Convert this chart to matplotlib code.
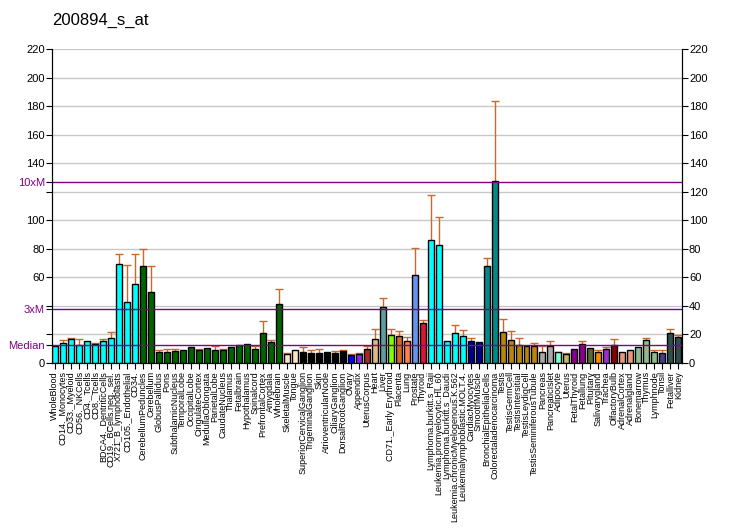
import numpy as np
import matplotlib
matplotlib.use('Agg')
import matplotlib.pyplot as plt

labels = ['WholeBlood', 'CD14._Monocytes', 'CD33._Myeloid', 'CD56._NKCells', 'CD4._Tcells',
          'CD8._Tcells', 'BDCA4._DentriticCells', 'CD19._BCells.neg._sel.', 'X721_B_lymphoblasts',
          'CD105._Endothelial', 'CD34.', 'CerebellumPeduncles', 'Cerebellum', 'GlobusPallidus',
          'Pons', 'SubthalamicNucleus', 'TemporalLobe', 'OccipitalLobe', 'CingulateCortex',
          'MedullaOblongata', 'ParietalLobe', 'CaudateNucleus', 'Thalamus', 'Fetalbrain',
          'Hypothalamus', 'Spinalcord', 'PrefrontalCortex', 'Amygdala', 'Wholebrain',
          'SkeletalMuscle', 'Tongue', 'SuperiorCervicalGanglion', 'TrigeminalGanglion', 'Skin',
          'AtrioventricularNode', 'CiliaryGanglion', 'DorsalRootGanglion', 'Ovary', 'Appendix',
          'UterusCorpus', 'Heart', 'Liver', 'CD71._Early Erythroid', 'Placenta', 'Lung',
          'Prostate', 'Thyroid', 'Lymphoma.burkitt.s_Raji', 'Leukemia.promyelocytic.HL.60',
          'Lymphoma.burkitt.s_Daudi', 'Leukemia.chronicMyelogenous.K.562',
          'Leukemialymphoblastic.MOLT.4.', 'CardiacMyocytes', 'SmoothMuscle',
          'BronchialEpithelialCells', 'Colorectaladenocarcinoma', 'Testis', 'TestisGermCell',
          'TestisIntersitial', 'TestisLeydigCell', 'TestisSeminiferousTubule', 'Pancreas',
          'PancreaticIslet', 'Adipocyte', 'Uterus', 'FetalThyroid', 'Fetallung', 'Pituitary',
          'Salivarygland', 'Trachea', 'OlfactoryBulb', 'AdrenalCortex', 'Adrenalgland',
          'Bonemarrow', 'Thymus', 'Lymphnode', 'Tonsil', 'Fetalliver', 'Kidney']

values = [11.7, 14.0, 16.8, 12.6, 15.2, 13.1, 15.2, 17.3, 69.1, 42.5, 55.1,
          67.7, 49.5, 7.5, 7.5, 8.2, 8.9, 11.0, 9.1, 10.3, 8.9, 9.1, 11.0, 12.4,
          13.1, 9.6, 20.8, 14.5, 41.1, 6.1, 8.9, 7.7, 7.0, 7.0, 7.7, 7.0, 8.4,
          5.4, 6.1, 9.8, 16.6, 39.2, 19.4, 18.7, 15.2, 61.4, 27.8, 85.9, 82.4,
          15.2, 20.8, 18.7, 15.2, 14.5, 67.7, 127.3, 21.5, 15.9, 12.4, 11.7,
          11.7, 7.5, 11.7, 7.5, 6.1, 9.6, 13.1, 10.3, 7.5, 9.6, 12.4, 7.5, 8.9,
          11.0, 15.9, 7.5, 6.8, 20.8, 18.0]

errors = [0.0, 1.9, 0.5, 4.0, 0.0, 1.1, 1.4, 4.2, 7.5, 25.9, 21.5,
          11.9, 18.2, 1.4, 2.1, 1.8, 0.0, 0.0, 0.9, 0.0, 2.8, 0.5, 0.0, 0.0,
          0.0, 2.1, 8.4, 1.4, 10.5, 0.7, 0.0, 3.3, 1.9, 2.6, 0.0, 1.2, 0.5,
          0.7, 0.7, 1.9, 7.0, 6.1, 4.7, 4.0, 2.8, 18.9, 2.1, 31.6, 19.7,
          0.0, 5.6, 4.2, 2.1, 0.0, 5.6, 56.1, 9.1, 6.3, 4.9, 0.0,
          2.1, 4.2, 3.5, 0.5, 0.7, 0.0, 2.1, 0.0, 1.4, 1.4, 4.2, 0.0, 0.0,
          0.0, 1.4, 1.4, 2.1, 2.8, 1.4]

colors = (['#00FFFF'] * 11 + ['#006400'] * 18 + ['#FFE4C4'] * 2 + ['#000000'] * 6 +
          ['#0000FF', '#8A2BE2', '#A52A2A', '#DEB887', '#5F9EA0', '#7FFF00', '#D2691E',
           '#FF7F50', '#6495ED', '#DC143C'] + ['#00FFFF'] * 5 + ['#00008B'] * 2 +
          ['#008B8B'] * 2 + ['#B8860B'] * 5 + ['#A9A9A9'] * 2 +
          ['#7FFFD4', '#BDB76B', '#8B008B', '#8B008B', '#556B2F', '#FF8C00', '#9932CC',
           '#8B0000', '#E9967A', '#E9967A', '#8FBC8F', '#8FBC8F', '#8FBC8F', '#483D8B',
           '#2F4F4F', '#2F4F4F'])

median = 12.65

plt.rcParams['font.family'] = ['Liberation Sans', 'DejaVu Sans']

fig = plt.figure(figsize=(7.32, 5.30), dpi=100)
ax = fig.add_axes([52 / 732, 1 - 363 / 530, 630 / 732, 314 / 530])

x = np.arange(len(values))
ax.bar(x, values, width=0.75, color=colors, edgecolor='black', linewidth=1, zorder=3)
# only the upper half of each error bar, with a cap on top
has_err = [i for i in range(len(errors)) if errors[i] > 0]
xe = x[has_err]
ve = np.array(values)[has_err]
ee = np.array(errors)[has_err]
ax.vlines(xe, ve, ve + ee, color='#C8692E', linewidth=1, zorder=2)
ax.plot(xe, ve + ee, linestyle='none', marker='_', markersize=6,
        markeredgewidth=1, color='#C8692E', zorder=2)

for yv in range(20, 221, 20):
    ax.axhline(yv, color='#C8C8C8', linewidth=1, zorder=1)
for m in [1, 3, 10]:
    ax.axhline(median * m, color='#800080', linewidth=1, zorder=5)

ax.set_xlim(-0.35, len(values) - 0.55)
ax.set_ylim(0, 220)
ax.spines['top'].set_visible(False)

ax.set_xticks(x)
ax.set_xticklabels(labels, rotation=90, fontsize=6.5,
                   family=['Liberation Sans Narrow', 'Liberation Sans', 'DejaVu Sans'])
ax.tick_params(axis='x', length=4, pad=2)

left_ticks = list(range(0, 221, 20)) + [median, median * 3, median * 10]
left_labels = [str(t) if t not in (20, 40, 120) else '' for t in range(0, 221, 20)]
left_labels += ['Median', '3xM', '10xM']
ax.set_yticks(left_ticks)
ax.set_yticklabels(left_labels, fontsize=8)
for lbl in ax.get_yticklabels()[-3:]:
    lbl.set_color('#800080')
ax.tick_params(axis='y', length=4, pad=1)

ax2 = ax.twinx()
ax2.set_ylim(0, 220)
ax2.set_yticks(range(0, 221, 20))
ax2.tick_params(axis='y', labelsize=8, length=4, pad=1)
ax2.spines['top'].set_visible(False)

fig.text(52 / 732, 1 - 20 / 530, '200894_s_at', fontsize=12, va='center', ha='left')

fig.savefig('out.png', dpi=100)
